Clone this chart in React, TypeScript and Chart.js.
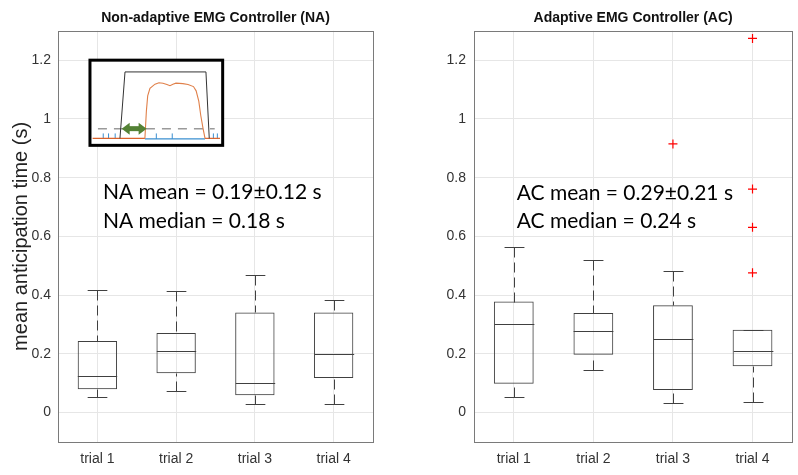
import React, { useEffect, useRef } from "react";
import { Chart, registerables } from "chart.js";
Chart.register(...registerables);

// ---------------- data ----------------
const categories = ["trial 1", "trial 2", "trial 3", "trial 4"];
const yTicks = [0, 0.2, 0.4, 0.6, 0.8, 1, 1.2];
const yMin = -0.1;
const yMax = 1.3;

const naLowerWhisker = [0.053, 0.072, 0.029, 0.029];
const naQ1 = [0.08, 0.134, 0.059, 0.118];
const naMedian = [0.125, 0.209, 0.1, 0.201];
const naQ3 = [0.244, 0.271, 0.341, 0.341];
const naUpperWhisker = [0.416, 0.413, 0.467, 0.382];

const acLowerWhisker = [0.052, 0.144, 0.032, 0.035];
const acQ1 = [0.098, 0.197, 0.077, 0.158];
const acMedian = [0.303, 0.277, 0.249, 0.211];
const acQ3 = [0.378, 0.339, 0.366, 0.282];
const acUpperWhisker = [0.565, 0.519, 0.482, 0.282];
const acOutlierTrial = ["trial 3", "trial 4", "trial 4", "trial 4", "trial 4"];
const acOutlierValue = [0.915, 1.274, 0.761, 0.631, 0.476];

const naTitle = "Non-adaptive EMG Controller (NA)";
const acTitle = "Adaptive EMG Controller (AC)";
const yLabel = "mean anticipation time (s)";
const naNotes = ["NA mean = 0.19±0.12 s", "NA median = 0.18 s"];
const acNotes = ["AC mean = 0.29±0.21 s", "AC median = 0.24 s"];
// note anchor in data units: [category index, y of line 1, y of line 2]
const naNoteAnchor = [0.071, 0.749, 0.653];
const acNoteAnchor = [0.036, 0.747, 0.652];

// inset illustration (left panel), its frame in data units
const insetFrame = { x0: -0.094, x1: 1.591, y0: 0.91, y1: 1.2 };
// shapes inside the inset in normalised [u, v] (0..1)
const insetTrapezoid = [
  [0.226, 0.082],
  [0.264, 0.862],
  [0.874, 0.862],
  [0.899, 0.082],
];
const insetOrange = [
  [0.414, 0.082],
  [0.425, 0.4],
  [0.435, 0.58],
  [0.452, 0.67],
  [0.49, 0.718],
  [0.52, 0.735],
  [0.55, 0.73],
  [0.58, 0.715],
  [0.603, 0.7],
  [0.625, 0.718],
  [0.648, 0.73],
  [0.7, 0.725],
  [0.739, 0.715],
  [0.78, 0.69],
  [0.8, 0.64],
  [0.82, 0.52],
  [0.835, 0.35],
  [0.852, 0.2],
  [0.867, 0.082],
];
const insetRedBase = [
  [0.02, 0.082],
  [0.414, 0.082],
];
const insetRedBase2 = [
  [0.867, 0.082],
  [0.98, 0.082],
];
const insetBlueBase = [
  [0.414, 0.075],
  [0.867, 0.075],
];
const insetBlueSpikes = [0.1, 0.14, 0.19, 0.5, 0.62, 0.93, 0.96];
const insetDashed = [
  [0.06, 0.196],
  [0.94, 0.196],
];
const insetArrow = [
  [0.239, 0.196],
  [0.427, 0.196],
];

// ---------------- plugins ----------------
const boxExtras = {
  id: "boxExtras",
  afterDatasetsDraw(chart: any, _a: any, opts: any) {
    const s = opts && opts.stats;
    if (!s) return;
    const x = chart.scales.x;
    const y = chart.scales.y;
    const ctx = chart.ctx;
    const band = x.getPixelForValue(1) - x.getPixelForValue(0);
    const snap = (v: number) => Math.round(v) + 0.5;
    ctx.save();
    ctx.strokeStyle = "#404040";
    ctx.lineWidth = 1;
    for (let i = 0; i < s.med.length; i++) {
      const cx = snap(x.getPixelForValue(i));
      const hb = band * 0.25;
      const hc = band * 0.125;
      const yh = snap(y.getPixelForValue(s.hi[i]));
      const yl = snap(y.getPixelForValue(s.lo[i]));
      // whiskers (dashed), drawn from the caps towards the box
      ctx.setLineDash([10, 5]);
      ctx.beginPath();
      ctx.moveTo(cx, yh);
      ctx.lineTo(cx, snap(y.getPixelForValue(s.q3[i])));
      ctx.stroke();
      ctx.beginPath();
      ctx.moveTo(cx, yl);
      ctx.lineTo(cx, snap(y.getPixelForValue(s.q1[i])));
      ctx.stroke();
      ctx.setLineDash([]);
      // caps
      ctx.beginPath();
      ctx.moveTo(cx - hc, yh);
      ctx.lineTo(cx + hc, yh);
      ctx.moveTo(cx - hc, yl);
      ctx.lineTo(cx + hc, yl);
      ctx.stroke();
      // median
      const ym = snap(y.getPixelForValue(s.med[i]));
      ctx.beginPath();
      ctx.moveTo(cx - hb, ym);
      ctx.lineTo(cx + hb, ym);
      ctx.stroke();
    }
    ctx.restore();
  },
};

const frameAndNotes = {
  id: "frameAndNotes",
  beforeDatasetsDraw(chart: any) {
    const a = chart.chartArea;
    const ctx = chart.ctx;
    ctx.save();
    ctx.strokeStyle = "#7a7a7a";
    ctx.lineWidth = 1;
    ctx.strokeRect(Math.round(a.left) + 0.5, Math.round(a.top) + 0.5, Math.round(a.right - a.left), Math.round(a.bottom - a.top));
    ctx.restore();
  },
  afterDraw(chart: any, _a: any, opts: any) {
    const ctx = chart.ctx;
    const x = chart.scales.x;
    const y = chart.scales.y;
    if (opts.notes) {
      ctx.save();
      ctx.fillStyle = "#000";
      ctx.font = "21px Lato";
      ctx.textBaseline = "middle";
      ctx.textAlign = "left";
      const px = x.getPixelForValue(opts.anchor[0]);
      ctx.fillText(opts.notes[0], px, y.getPixelForValue(opts.anchor[1]));
      ctx.fillText(opts.notes[1], px, y.getPixelForValue(opts.anchor[2]));
      ctx.restore();
    }
    if (opts.inset) {
      const f = opts.inset;
      const L = x.getPixelForValue(f.x0);
      const R = x.getPixelForValue(f.x1);
      const T = y.getPixelForValue(f.y1);
      const B = y.getPixelForValue(f.y0);
      const P = (p: number[]) => [L + p[0] * (R - L), B - p[1] * (B - T)];
      const poly = (pts: number[][], color: string, w: number, dash: number[] = []) => {
        ctx.beginPath();
        pts.forEach((p, i) => {
          const q = P(p);
          if (i === 0) ctx.moveTo(q[0], q[1]);
          else ctx.lineTo(q[0], q[1]);
        });
        ctx.strokeStyle = color;
        ctx.lineWidth = w;
        ctx.setLineDash(dash);
        ctx.stroke();
        ctx.setLineDash([]);
      };
      ctx.save();
      ctx.fillStyle = "#fff";
      ctx.fillRect(L, T, R - L, B - T);
      poly(insetDashed, "#9a9a9a", 1.5, [9, 7]);
      poly(insetBlueBase, "#3a8fd0", 1.2);
      insetBlueSpikes.forEach((u) => poly([[u, 0.075], [u, 0.14]], "#3a8fd0", 1));
      poly(insetRedBase, "#d9622b", 1.2);
      poly(insetRedBase2, "#d9622b", 1.2);
      poly(insetTrapezoid, "#333", 1);
      poly(insetOrange, "#e0804a", 1.1);
      // green double arrow
      const a0 = P(insetArrow[0]);
      const a1 = P(insetArrow[1]);
      ctx.fillStyle = "#548235";
      ctx.strokeStyle = "#548235";
      ctx.lineWidth = 5;
      ctx.beginPath();
      ctx.moveTo(a0[0] + 6, a0[1]);
      ctx.lineTo(a1[0] - 6, a1[1]);
      ctx.stroke();
      ctx.beginPath();
      ctx.moveTo(a0[0], a0[1]);
      ctx.lineTo(a0[0] + 8, a0[1] - 6);
      ctx.lineTo(a0[0] + 8, a0[1] + 6);
      ctx.closePath();
      ctx.moveTo(a1[0], a1[1]);
      ctx.lineTo(a1[0] - 8, a1[1] - 6);
      ctx.lineTo(a1[0] - 8, a1[1] + 6);
      ctx.closePath();
      ctx.fill();
      // frame
      ctx.strokeStyle = "#000";
      ctx.lineWidth = 3;
      ctx.strokeRect(L, T, R - L, B - T);
      ctx.restore();
    }
  },
};

// ---------------- panel ----------------
type PanelProps = {
  width: number;
  height: number;
  title: string;
  lo: number[];
  q1: number[];
  med: number[];
  q3: number[];
  hi: number[];
  outX?: string[];
  outY?: number[];
  yAxisWidth: number;
  padRight: number;
  showYLabel: boolean;
  notes: string[];
  anchor: number[];
  inset?: any;
};

function Panel(p: PanelProps) {
  const ref = useRef<HTMLCanvasElement | null>(null);
  useEffect(() => {
    if (!ref.current) return;
    const datasets: any[] = [
      {
        type: "bar",
        data: p.q1.map((v, i) => [v, p.q3[i]]),
        backgroundColor: "rgba(0,0,0,0)",
        borderColor: "#404040",
        borderWidth: 1,
        borderSkipped: false,
        barPercentage: 0.5,
        categoryPercentage: 1,
      },
    ];
    if (p.outX && p.outY) {
      datasets.push({
        type: "line",
        data: p.outX.map((xv, i) => ({ x: xv, y: p.outY![i] })),
        showLine: false,
        pointStyle: "cross",
        pointRadius: 4.5,
        pointBorderWidth: 1.2,
        borderColor: "#ff0000",
        backgroundColor: "#ff0000",
      });
    }
    const chart = new Chart(ref.current, {
      type: "bar",
      data: { labels: categories, datasets },
      plugins: [frameAndNotes, boxExtras],
      options: {
        responsive: false,
        animation: false,
        events: [],
        layout: { padding: { left: 0, right: p.padRight, top: 0, bottom: 0 } },
        plugins: {
          legend: { display: false },
          tooltip: { enabled: false },
          title: {
            display: true,
            text: p.title,
            fullSize: false,
            color: "#111",
            font: { family: "Liberation Sans, Arial", size: 14, weight: "bold" },
            padding: { top: 10, bottom: 4 },
          },
          boxExtras: { stats: { lo: p.lo, q1: p.q1, med: p.med, q3: p.q3, hi: p.hi } },
          frameAndNotes: { notes: p.notes, anchor: p.anchor, inset: p.inset },
        } as any,
        scales: {
          x: {
            type: "category",
            offset: true,
            grid: { offset: false, color: "#e6e6e6", drawTicks: false },
            border: { display: false },
            ticks: {
              color: "#333",
              padding: 9,
              font: { family: "Liberation Sans, Arial", size: 14 },
            },
            afterFit: (s: any) => {
              s.height = 33;
            },
          },
          y: {
            type: "linear",
            min: yMin,
            max: yMax,
            grid: { color: "#e6e6e6", drawTicks: false },
            border: { display: false },
            ticks: {
              color: "#333",
              padding: p.showYLabel ? 7 : 8,
              font: { family: "Liberation Sans, Arial", size: 14 },
              callback: (v: any) => String(v),
            },
            afterBuildTicks: (s: any) => {
              s.ticks = yTicks.map((v) => ({ value: v }));
            },
            afterFit: (s: any) => {
              s.width = p.yAxisWidth;
            },
            title: {
              display: p.showYLabel,
              text: yLabel,
              color: "#222",
              font: { family: "Liberation Sans, Arial", size: 20 },
              padding: { top: 9, bottom: 0 },
            },
          },
        },
      } as any,
    });
    return () => chart.destroy();
  }, []);
  return <canvas ref={ref} width={p.width} height={p.height} style={{ display: "block" }} />;
}

export default function App() {
  return (
    <div style={{ position: "fixed", left: 0, top: 0, width: 798, height: 475, background: "#fff" }}>
      <div style={{ position: "absolute", left: 0, top: 0 }}>
        <Panel
          width={400}
          height={475}
          title={naTitle}
          lo={naLowerWhisker}
          q1={naQ1}
          med={naMedian}
          q3={naQ3}
          hi={naUpperWhisker}
          yAxisWidth={58}
          padRight={27}
          showYLabel={true}
          notes={naNotes}
          anchor={naNoteAnchor}
          inset={insetFrame}
        />
      </div>
      <div style={{ position: "absolute", left: 400, top: 0 }}>
        <Panel
          width={398}
          height={475}
          title={acTitle}
          lo={acLowerWhisker}
          q1={acQ1}
          med={acMedian}
          q3={acQ3}
          hi={acUpperWhisker}
          outX={acOutlierTrial}
          outY={acOutlierValue}
          yAxisWidth={74}
          padRight={5}
          showYLabel={false}
          notes={acNotes}
          anchor={acNoteAnchor}
        />
      </div>
    </div>
  );
}
